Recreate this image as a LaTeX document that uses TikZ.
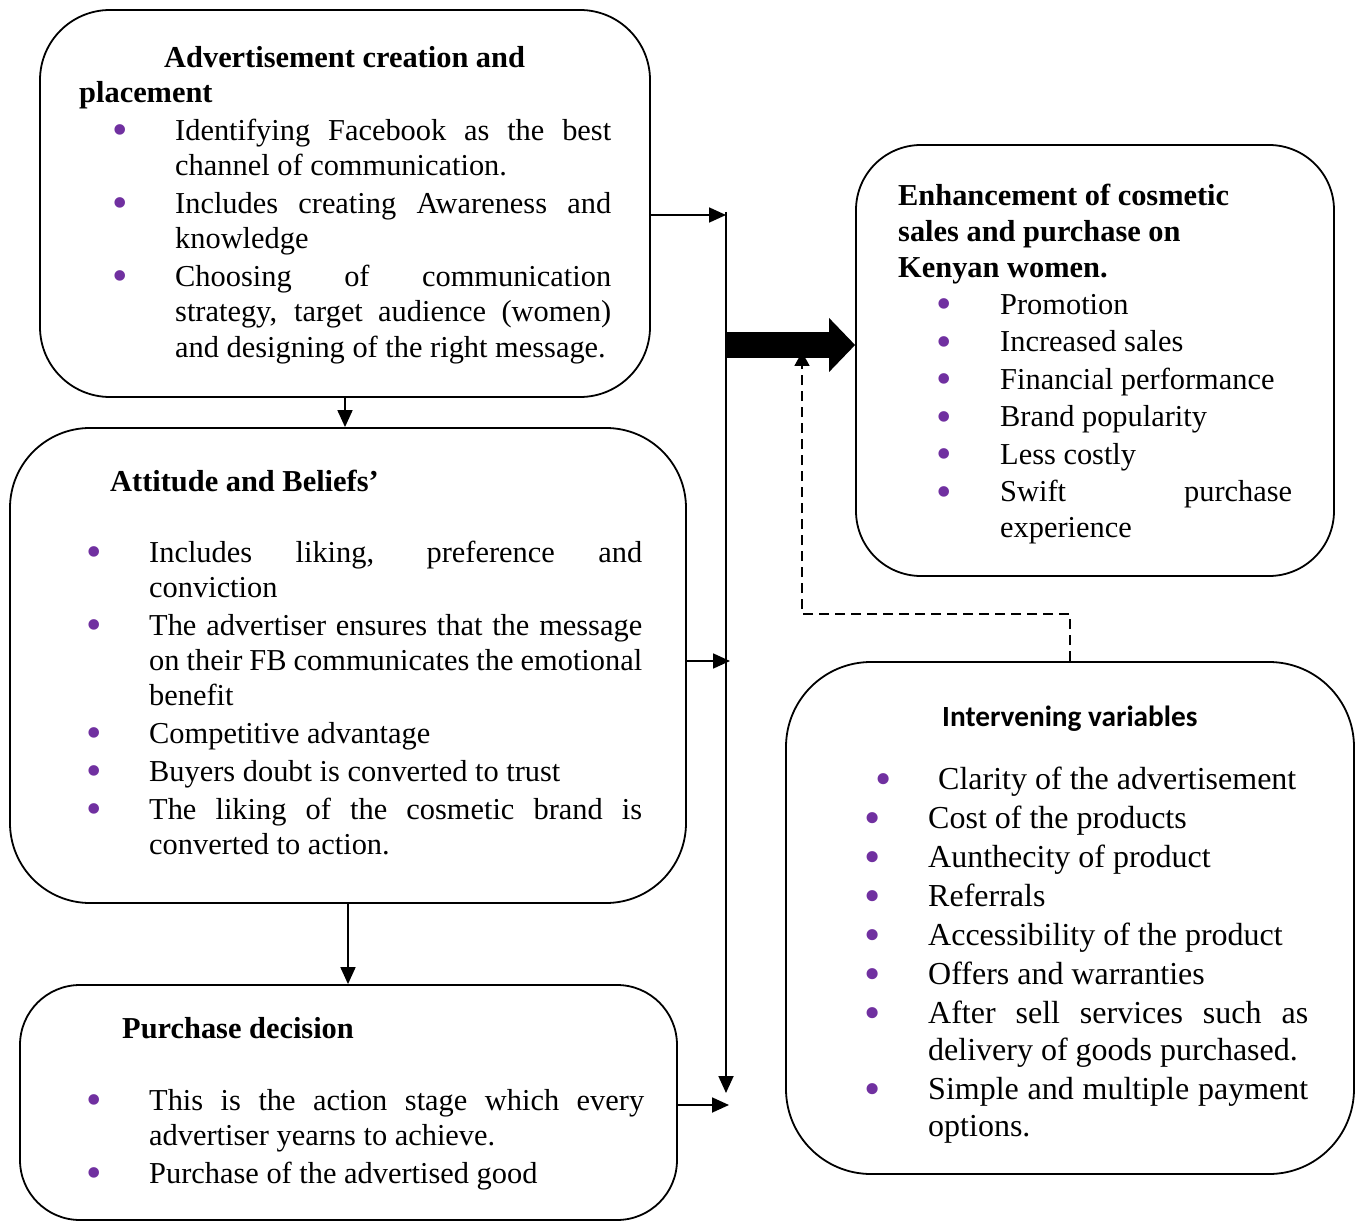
\documentclass[tikz,border=0pt]{standalone}
\usepackage{fontspec}
\setmainfont{Liberation Serif}
\newfontfamily\intfont{Carlito}
\usepackage{enumitem}
\usetikzlibrary{arrows.meta}
\definecolor{bulletpurple}{HTML}{7030A0}
\newcommand{\purplebullet}{\raisebox{-0.14em}{\scalebox{1.45}{\color{bulletpurple}\textbullet}}}
\newcommand{\shiftbullet}{\makebox[0pt]{\hspace*{22pt}\purplebullet}}
\setlist[itemize]{label=\makebox[0pt]{\purplebullet}, labelwidth=0pt, labelsep=55pt, leftmargin=55pt, itemsep=2.4pt, parsep=0pt, topsep=0pt, partopsep=0pt}

\begin{document}
\begin{tikzpicture}[x=1pt, y=-1pt,
        box/.style={draw, line width=1.8pt, rounded corners=#1, inner sep=0pt},
        txt/.style={anchor=north west, inner sep=0pt, align=justify, font={\fontsize{30.4}{35.3}\selectfont\sloppy\parindent=0pt\parskip=0pt}},
        conn/.style={line width=1.8pt, -{Triangle[length=17pt,width=15pt]}}]
            \useasboundingbox (0,0) rectangle (1360,1222);

            \node[box=70pt, minimum width=610pt, minimum height=387pt] (adbox) at (345,203.5) {};
            \node[box=80pt, minimum width=676pt, minimum height=475pt] (attbox) at (348,665.5) {};
            \node[box=60pt, minimum width=657pt, minimum height=235pt] (purbox) at (348.5,1102.5) {};
            \node[box=65pt, minimum width=478pt, minimum height=431pt] (enhbox) at (1095,360.5) {};
            \node[box=85pt, minimum width=568pt, minimum height=512pt] (intbox) at (1070,918) {};

            \node[txt, text width=532pt] (adtext) at (79,42.5) {\hspace*{85pt}\strut\textbf{Advertisement creation and}\\
                \textbf{placement}
                \begin{itemize}[leftmargin=96pt, topsep=2.4pt]
                    \item Identifying Facebook as the best\linebreak channel of communication.
                    \item Includes creating Awareness and\linebreak knowledge
                    \item Choosing of communication\linebreak strategy, target audience (women)\linebreak and designing of the right message.
                \end{itemize}};

            \node[txt, text width=548pt] (atttext) at (94,466.5) {\hspace*{16pt}\strut\textbf{Attitude and Beliefs'}
                \begin{itemize}[topsep=35.6pt]
                    \item Includes liking, preference and\linebreak conviction
                    \item The advertiser ensures that the message\linebreak on their FB communicates the emotional\linebreak benefit
                    \item Competitive advantage
                    \item Buyers doubt is converted to trust
                    \item The liking of the cosmetic brand is\linebreak converted to action.
                \end{itemize}};

            \node[txt, text width=550pt] (purtext) at (94,1013.5) {\hspace*{28pt}\strut\textbf{Purchase decision}
                \begin{itemize}[topsep=36.7pt]
                    \item This is the action stage which every\linebreak advertiser yearns to achieve.
                    \item Purchase of the advertised good
                \end{itemize}};

            \node[txt, text width=394pt, font={\fontsize{30.4}{35.7}\selectfont\sloppy\parindent=0pt\parskip=0pt}] (enhtext) at (898,180.5) {\strut\textbf{Enhancement of cosmetic}\\
                \textbf{sales and purchase on}\\
                \textbf{Kenyan women.}
                \begin{itemize}[leftmargin=102pt, labelsep=56pt, itemsep=1.8pt, topsep=1.5pt]
                    \item Promotion
                    \item Increased sales
                    \item Financial performance
                    \item Brand popularity
                    \item Less costly
                    \item Swift purchase\linebreak experience
                \end{itemize}};

            \node[txt, text width=436pt, font={\fontsize{32}{37}\selectfont\sloppy\parindent=0pt\parskip=0pt}] (inttext) at (872,700.5) {\hspace*{70pt}{\intfont\bfseries\fontsize{29.3}{37}\selectfont\strut Intervening variables}
                \begin{itemize}[leftmargin=56pt, labelsep=56pt, itemsep=2pt, topsep=26pt]
                    \item[\shiftbullet] \hspace*{10pt}Clarity of the advertisement
                    \item Cost of the products
                    \item Aunthecity of product
                    \item Referrals
                    \item Accessibility of the product
                    \item Offers and warranties
                    \item After sell services such as\linebreak delivery of goods purchased.
                    \item Simple and multiple payment\linebreak options.
                \end{itemize}};

            \coordinate (trunktop) at (726,212);
            \coordinate (trunkend) at (726,1093);
            \coordinate (adjoin) at (726,215);
            \coordinate (attjoin) at (730,661);
            \coordinate (purjoin) at (729,1105);
            \coordinate (bigtail) at (725,345);
            \coordinate (dashtip) at (802,352);

            \draw[conn] (adbox.south) -- (adbox.south |- attbox.north);
            \draw[conn] (attbox.south) -- (attbox.south |- purbox.north);
            \draw[conn] (trunktop) -- (trunkend);
            \draw[conn] (adbox.east |- adjoin) -- (adjoin);
            \draw[conn] (attbox.east |- attjoin) -- (attjoin);
            \draw[conn] (purbox.east |- purjoin) -- (purjoin);
            \draw[line width=1.8pt, dash pattern=on 10pt off 6pt, -{Triangle[length=14pt,width=15pt]}] (intbox.north) -- ++(0,-47) -| (dashtip);
            \draw[line width=26pt, -{Triangle[length=26pt,width=54pt,line width=0pt]}] (bigtail) -- (enhbox.west |- bigtail);
        \end{tikzpicture}
\end{document}
